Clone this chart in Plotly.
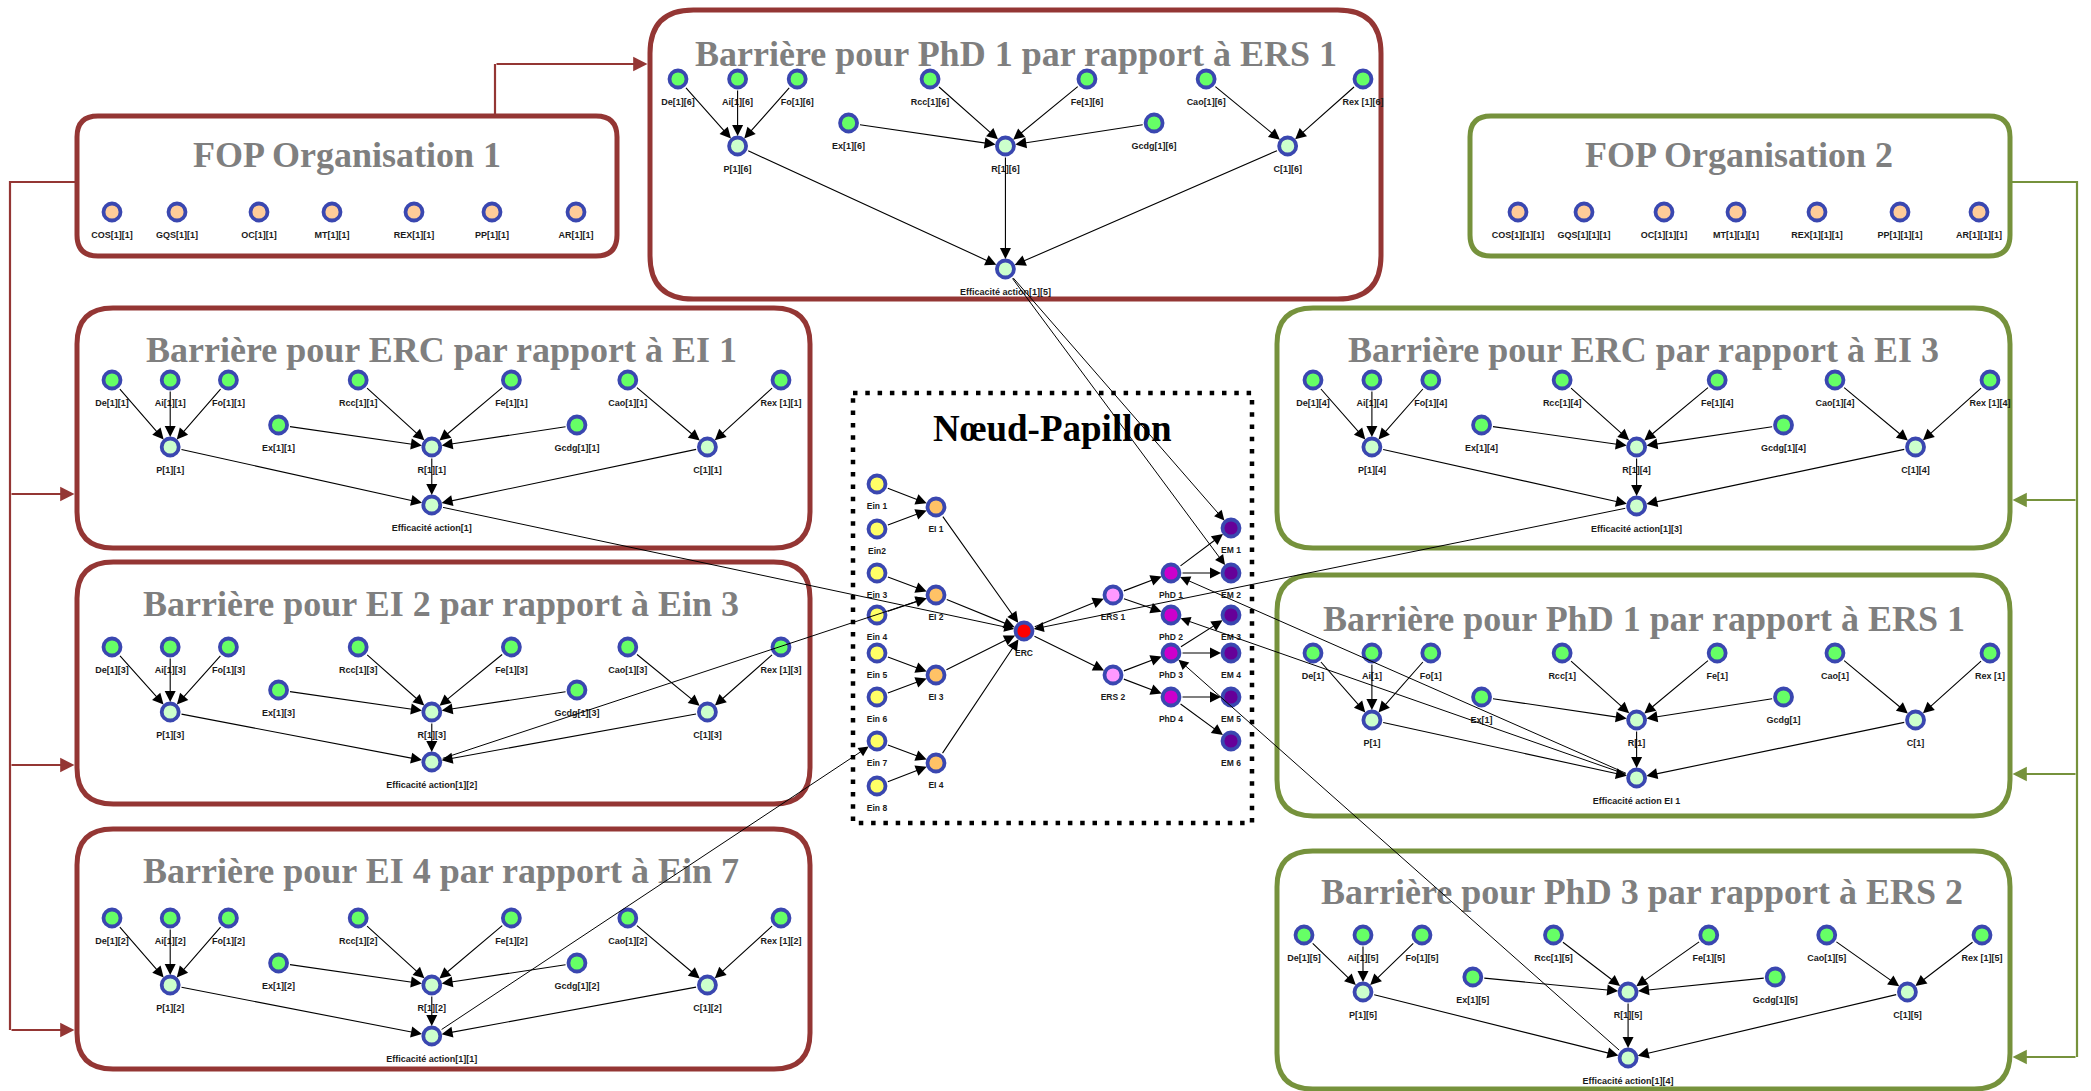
import plotly.graph_objects as go

# ---------------------------------------------------------------------------
# Data: the barrier panels (same small graph repeated with other indices)
# ---------------------------------------------------------------------------
PANEL_IDS = ["top", "left1", "left2", "left3", "right1", "right2", "right3"]
PANEL_TITLES = [
    "Barrière pour PhD 1 par rapport à ERS 1",
    "Barrière pour ERC par rapport à EI 1",
    "Barrière pour EI 2 par rapport à Ein 3",
    "Barrière pour EI 4 par rapport à Ein 7",
    "Barrière pour ERC par rapport à EI 3",
    "Barrière pour PhD 1 par rapport à ERS 1",
    "Barrière pour PhD 3 par rapport à ERS 2",
]
PANEL_SUFFIX = ["[1][6]", "[1][1]", "[1][3]", "[1][2]", "[1][4]", "[1]", "[1][5]"]
PANEL_EFF_LABEL = [
    "Efficacité action[1][5]", "Efficacité action[1]", "Efficacité action[1][2]",
    "Efficacité action[1][1]", "Efficacité action[1][3]", "Efficacité action EI 1",
    "Efficacité action[1][4]",
]
PANEL_ORG = ["org1", "org1", "org1", "org1", "org2", "org2", "org2"]

BARRIER_STEMS = ["De", "Ai", "Fo", "Rcc", "Fe", "Cao", "Rex ", "Ex", "Gcdg", "P", "R", "C", "Eff"]
BARRIER_KIND = ["in"] * 9 + ["mid"] * 4
BARRIER_EDGES = [
    ("De", "P"), ("Ai", "P"), ("Fo", "P"),
    ("Rcc", "R"), ("Fe", "R"), ("Ex", "R"), ("Gcdg", "R"),
    ("Cao", "C"), ("Rex", "C"),
    ("P", "Eff"), ("R", "Eff"), ("C", "Eff"),
]

# FOP organisation boxes
FOP_IDS = ["org1", "org2"]
FOP_TITLES = ["FOP Organisation 1", "FOP Organisation 2"]
FOP_STEMS = ["COS", "GQS", "OC", "MT", "REX", "PP", "AR"]
FOP_SUFFIX = ["[1][1]", "[1][1][1]"]

# Bow-tie (Nœud-Papillon)
BT_NODES = ["Ein 1", "Ein2", "Ein 3", "Ein 4", "Ein 5", "Ein 6", "Ein 7", "Ein 8",
            "EI 1", "EI 2", "EI 3", "EI 4", "ERC", "ERS 1", "ERS 2",
            "PhD 1", "PhD 2", "PhD 3", "PhD 4",
            "EM 1", "EM 2", "EM 3", "EM 4", "EM 5", "EM 6"]
BT_KIND = ["ein"] * 8 + ["ei"] * 4 + ["erc"] + ["ers"] * 2 + ["phd"] * 4 + ["em"] * 6
BT_EDGES = [
    ("Ein 1", "EI 1"), ("Ein2", "EI 1"), ("Ein 3", "EI 2"), ("Ein 4", "EI 2"),
    ("Ein 5", "EI 3"), ("Ein 6", "EI 3"), ("Ein 7", "EI 4"), ("Ein 8", "EI 4"),
    ("EI 1", "ERC"), ("EI 2", "ERC"), ("EI 3", "ERC"), ("EI 4", "ERC"),
    ("ERC", "ERS 1"), ("ERC", "ERS 2"),
    ("ERS 1", "PhD 1"), ("ERS 1", "PhD 2"), ("ERS 2", "PhD 3"), ("ERS 2", "PhD 4"),
    ("PhD 1", "EM 1"), ("PhD 1", "EM 2"), ("PhD 3", "EM 3"), ("PhD 3", "EM 4"),
    ("PhD 4", "EM 5"), ("PhD 4", "EM 6"),
]

# links between panels and the bow-tie
CROSS_EDGES = [
    (("top", "Eff"), ("bt", "EM 1")), (("top", "Eff"), ("bt", "EM 2")),
    (("left1", "Eff"), ("bt", "ERC")),
    (("left2", "Eff"), ("bt", "EI 2")),
    (("left3", "Eff"), ("bt", "Ein 7")),
    (("right1", "Eff"), ("bt", "ERC")),
    (("right2", "Eff"), ("bt", "PhD 1")), (("right2", "Eff"), ("bt", "PhD 2")),
    (("right3", "Eff"), ("bt", "PhD 3")),
]

# ---------------------------------------------------------------------------
# Layout (page pixels)
# ---------------------------------------------------------------------------
PANEL_BOX = {
    "top": (650, 10, 1381, 299), "left1": (77, 308, 810, 548),
    "left2": (77, 562, 810, 804), "left3": (77, 829, 810, 1069),
    "right1": (1277, 308, 2010, 548), "right2": (1277, 575, 2010, 816),
    "right3": (1277, 851, 2010, 1089),
}
PANEL_TITLE_XY = {
    "top": (1016, 54), "left1": (441, 350), "left2": (441, 604), "left3": (441, 871),
    "right1": (1643, 350), "right2": (1644, 619), "right3": (1642, 892),
}
PANEL_NODE_SPAN = {
    "top": (678, 1363), "left1": (112, 781), "left2": (112, 781), "left3": (112, 781),
    "right1": (1313, 1990), "right2": (1313, 1990), "right3": (1304, 1982),
}
PANEL_ROWS = {
    "top": (79, 123, 146, 269), "left1": (380, 425, 447, 505),
    "left2": (647, 690, 712, 762), "left3": (918, 963, 985, 1036),
    "right1": (380, 425, 447, 506), "right2": (653, 697, 720, 778),
    "right3": (935, 977, 992, 1058),
}
NODE_XFRAC = [0, 0.087, 0.174, 0.368, 0.597, 0.771, 1.0, 0.249, 0.695, 0.087, 0.478, 0.89, 0.478]
NODE_ROW = [0, 0, 0, 0, 0, 0, 0, 1, 1, 2, 2, 2, 3]

FOP_BOX = {"org1": (77, 116, 617, 256), "org2": (1470, 116, 2010, 256)}
FOP_TITLE_XY = {"org1": (347, 155), "org2": (1739, 155)}
FOP_X = {"org1": [112, 177, 259, 332, 414, 492, 576],
         "org2": [1518, 1584, 1664, 1736, 1817, 1900, 1979]}
FOP_Y = 212

BT_X = {"ein": 877, "ei": 936, "erc": 1024, "ers": 1113, "phd": 1171, "em": 1231}
BT_Y = [484, 529, 573, 615, 653, 697, 741, 786,
        507, 595, 675, 763, 631, 595, 675,
        573, 615, 653, 697,
        528, 573, 615, 653, 697, 741]
BT_BOX = (853, 393, 1252, 823)
BT_TITLE_XY = (1052, 428)

RED = "#943634"
GREEN = "#76923C"
ORG_COLOR = {"org1": RED, "org2": GREEN}
NODE_FILL = {"in": "#66FF66", "mid": "#CCFFCC", "fop": "#FFCC99", "ein": "#FFFF66",
             "ei": "#FFC266", "erc": "#FF0000", "ers": "#FF99FF", "phd": "#CC00CC",
             "em": "#660099"}
NODE_EDGE = "#3A47B0"
TITLE_FONT = dict(family="Liberation Serif, DejaVu Serif, serif", size=36,
                  color="#7F7F7F", weight="bold")
LABEL_FONT = dict(family="Liberation Sans Narrow, Liberation Sans, Arial, sans-serif",
                  size=9, color="#1A1A1A", weight="bold")
BT_LABEL_FONT = dict(family="Liberation Sans, Arial, sans-serif", size=8.5,
                     color="#1A1A1A", weight="bold")
LABEL_DY = 24

# ---------------------------------------------------------------------------
# Build node table
# ---------------------------------------------------------------------------
pos = {}
nx, ny, ncol, ntext, tx, ty = [], [], [], [], [], []
btx, bty, bttext = [], [], []

for i, pid in enumerate(PANEL_IDS):
    x0, x1 = PANEL_NODE_SPAN[pid]
    rows = PANEL_ROWS[pid]
    for j, stem in enumerate(BARRIER_STEMS):
        x = x0 + NODE_XFRAC[j] * (x1 - x0)
        y = rows[NODE_ROW[j]]
        pos[(pid, stem.strip())] = (x, y)
        nx.append(x)
        ny.append(y)
        ncol.append(NODE_FILL[BARRIER_KIND[j]])
        tx.append(x)
        ty.append(y + LABEL_DY)
        ntext.append(PANEL_EFF_LABEL[i] if stem == "Eff" else stem + PANEL_SUFFIX[i])

for k, oid in enumerate(FOP_IDS):
    for j, stem in enumerate(FOP_STEMS):
        x = FOP_X[oid][j]
        nx.append(x)
        ny.append(FOP_Y)
        ncol.append(NODE_FILL["fop"])
        tx.append(x)
        ty.append(FOP_Y + LABEL_DY)
        ntext.append(stem + FOP_SUFFIX[k])

for j, name in enumerate(BT_NODES):
    x = BT_X[BT_KIND[j]]
    y = BT_Y[j]
    pos[("bt", name)] = (x, y)
    nx.append(x)
    ny.append(y)
    ncol.append(NODE_FILL[BT_KIND[j]])
    btx.append(x)
    bty.append(y + 23)
    bttext.append(name)

fig = go.Figure()

shapes = []
annotations = []


def rounded_box(box, color):
    x0, y0, x1, y1 = box
    r = 0.15 * (y1 - y0)
    path = (f"M{x0 + r},{y0} L{x1 - r},{y0} Q{x1},{y0} {x1},{y0 + r} "
            f"L{x1},{y1 - r} Q{x1},{y1} {x1 - r},{y1} L{x0 + r},{y1} "
            f"Q{x0},{y1} {x0},{y1 - r} L{x0},{y0 + r} Q{x0},{y0} {x0 + r},{y0} Z")
    return dict(type="path", path=path, xref="x", yref="y", layer="below",
                fillcolor="white", line=dict(color=color, width=5))


def arrow(p0, p1, color="black", width=1.1, size=2.0, stand=10, start=10):
    return dict(x=p1[0], y=p1[1], ax=p0[0], ay=p0[1], xref="x", yref="y",
                axref="x", ayref="y", text="", showarrow=True, arrowhead=2,
                arrowsize=size, arrowwidth=width, arrowcolor=color,
                standoff=stand, startstandoff=start)


# panel boxes and titles
for i, pid in enumerate(PANEL_IDS):
    shapes.append(rounded_box(PANEL_BOX[pid], ORG_COLOR[PANEL_ORG[i]]))
    x, y = PANEL_TITLE_XY[pid]
    annotations.append(dict(x=x, y=y, xref="x", yref="y", text=PANEL_TITLES[i],
                            showarrow=False, font=TITLE_FONT))
for k, oid in enumerate(FOP_IDS):
    shapes.append(rounded_box(FOP_BOX[oid], ORG_COLOR[oid]))
    x, y = FOP_TITLE_XY[oid]
    annotations.append(dict(x=x, y=y, xref="x", yref="y", text=FOP_TITLES[k],
                            showarrow=False, font=TITLE_FONT))

# bow-tie dotted frame and title
bx0, by0, bx1, by1 = BT_BOX
shapes.append(dict(type="rect", x0=bx0, y0=by0, x1=bx1, y1=by1, xref="x", yref="y",
                   layer="below", line=dict(color="black", width=4.5, dash="4.5px,7.8px")))
annotations.append(dict(x=BT_TITLE_XY[0], y=BT_TITLE_XY[1], xref="x", yref="y",
                        text="Nœud-Papillon", showarrow=False,
                        font=dict(family="Liberation Serif, DejaVu Serif, serif",
                                  size=37, color="black", weight="bold")))

# edges
for pid in PANEL_IDS:
    for a, b in BARRIER_EDGES:
        annotations.append(arrow(pos[(pid, a)], pos[(pid, b)]))
for a, b in BT_EDGES:
    annotations.append(arrow(pos[("bt", a)], pos[("bt", b)]))
for a, b in CROSS_EDGES:
    annotations.append(arrow(pos[a], pos[b], width=1.0))

# organisation connectors
for oid in FOP_IDS:
    color = ORG_COLOR[oid]
    fx0, fy0, fx1, fy1 = FOP_BOX[oid]
    mid_y = 182
    if oid == "org1":
        rail = 10
        targets = [pid for pid, o in zip(PANEL_IDS, PANEL_ORG) if o == oid and pid != "top"]
        ys = [494, 765, 1030]
        fig.add_trace(go.Scatter(x=[fx0, rail, rail], y=[mid_y, mid_y, ys[-1]], mode="lines",
                                 line=dict(color=color, width=2.2), hoverinfo="skip"))
        for t, y in zip(targets, ys):
            annotations.append(arrow((rail, y), (PANEL_BOX[t][0] - 2.5, y), color=color,
                                     width=2.2, size=1.3, stand=0, start=0))
        tx0 = 495
        ty0 = 64
        fig.add_trace(go.Scatter(x=[tx0, tx0], y=[fy0, ty0], mode="lines",
                                 line=dict(color=color, width=2.2), hoverinfo="skip"))
        annotations.append(arrow((tx0, ty0), (PANEL_BOX["top"][0] - 2.5, ty0), color=color,
                                 width=2.2, size=1.3, stand=0, start=0))
    else:
        rail = 2077
        targets = [pid for pid, o in zip(PANEL_IDS, PANEL_ORG) if o == oid]
        ys = [500, 774, 1057]
        fig.add_trace(go.Scatter(x=[fx1, rail, rail], y=[mid_y, mid_y, ys[-1]], mode="lines",
                                 line=dict(color=color, width=2.2), hoverinfo="skip"))
        for t, y in zip(targets, ys):
            annotations.append(arrow((rail, y), (PANEL_BOX[t][2] + 2.5, y), color=color,
                                     width=2.2, size=1.3, stand=0, start=0))

# nodes and labels
fig.add_trace(go.Scatter(x=nx, y=ny, mode="markers", hoverinfo="skip",
                         marker=dict(size=17, color=ncol,
                                     line=dict(color=NODE_EDGE, width=3.8))))
fig.add_trace(go.Scatter(x=tx, y=ty, mode="text", text=ntext, textfont=LABEL_FONT,
                         hoverinfo="skip", cliponaxis=False))
fig.add_trace(go.Scatter(x=btx, y=bty, mode="text", text=bttext, textfont=BT_LABEL_FONT,
                         hoverinfo="skip"))

W, H = 2091, 1091
fig.update_layout(
    width=W, height=H,
    margin=dict(l=0, r=0, t=0, b=0),
    paper_bgcolor="white", plot_bgcolor="white",
    showlegend=False,
    xaxis=dict(range=[0, W], visible=False, fixedrange=True),
    yaxis=dict(range=[H, 0], visible=False, fixedrange=True),
    shapes=shapes, annotations=annotations,
)

# drop the default body margin so the figure covers the whole page
fig.write_html("out.html", config={"displayModeBar": False},
               post_script="document.body.style.margin='0px';")
